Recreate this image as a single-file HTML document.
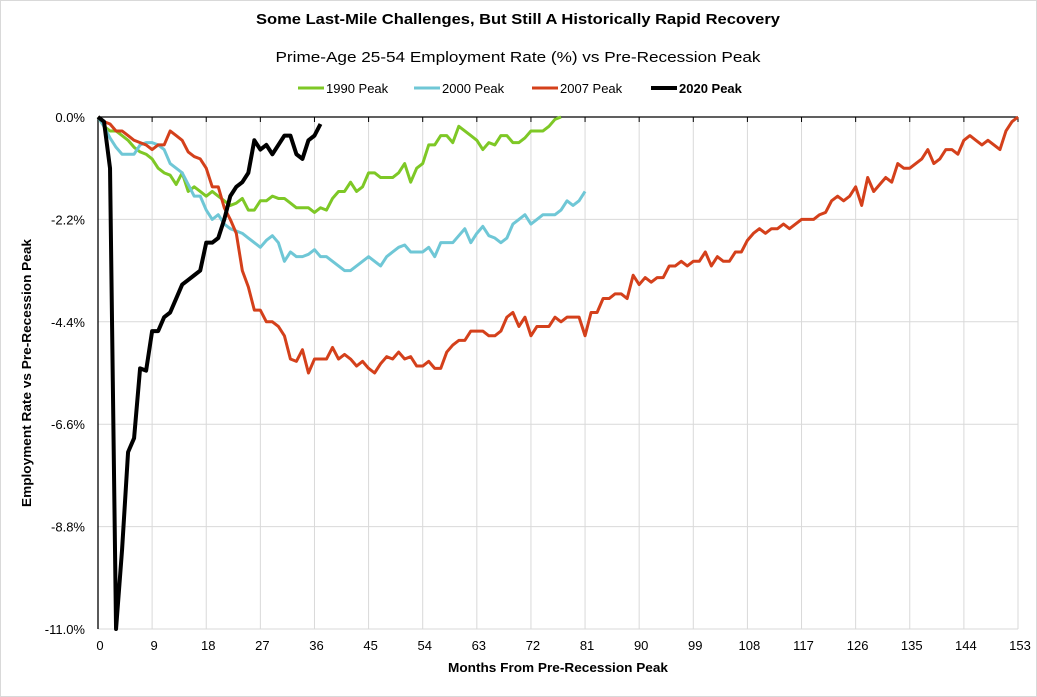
<!DOCTYPE html>
<html><head><meta charset="utf-8"><style>
body{margin:0;background:#fff;}
svg{display:block;font-family:"Liberation Sans",sans-serif;}
</style></head><body>
<svg id="chart" width="1037" height="697">
<rect x="0.5" y="0.5" width="1036" height="696" fill="#fff" stroke="#d9d9d9"/>
<text x="518" y="24" text-anchor="middle" font-size="15" font-weight="bold" textLength="524" lengthAdjust="spacingAndGlyphs">Some Last-Mile Challenges, But Still A Historically Rapid Recovery</text>
<text x="518" y="62" text-anchor="middle" font-size="15" textLength="485" lengthAdjust="spacingAndGlyphs">Prime-Age 25-54 Employment Rate (%) vs  Pre-Recession Peak</text>
<g id="legend"></g>
<g id="grid"></g>
<g id="axes"></g>
<g id="series"></g>
<text x="558" y="672" text-anchor="middle" font-size="13" font-weight="bold" textLength="220" lengthAdjust="spacingAndGlyphs">Months From Pre-Recession Peak</text>
<text transform="translate(31,373) rotate(-90)" text-anchor="middle" font-size="13" font-weight="bold" textLength="268" lengthAdjust="spacingAndGlyphs">Employment Rate vs Pre-Recession Peak</text>
</svg>
<script>
const xTicks=[0,9,18,27,36,45,54,63,72,81,90,99,108,117,126,135,144,153];
const yTicks=[0,-2.2,-4.4,-6.6,-8.8,-11.0];
const yTickLabels=["0.0%","-2.2%","-4.4%","-6.6%","-8.8%","-11.0%"];
const seriesNames=["1990 Peak","2000 Peak","2007 Peak","2020 Peak"];
const seriesColors=["#7ec826","#6fc7d6","#d4401b","#000000"];
const s1990=[0,-0.2,-0.3,-0.3,-0.4,-0.5,-0.65,-0.75,-0.8,-0.9,-1.1,-1.2,-1.25,-1.45,-1.2,-1.6,-1.5,-1.6,-1.7,-1.6,-1.7,-1.8,-1.9,-1.85,-1.75,-2.0,-2.0,-1.8,-1.8,-1.7,-1.75,-1.75,-1.85,-1.95,-1.95,-1.95,-2.05,-1.95,-2.0,-1.75,-1.6,-1.6,-1.4,-1.6,-1.5,-1.2,-1.2,-1.3,-1.3,-1.3,-1.2,-1.0,-1.4,-1.1,-1.0,-0.6,-0.6,-0.4,-0.4,-0.55,-0.2,-0.3,-0.4,-0.5,-0.7,-0.55,-0.6,-0.4,-0.4,-0.55,-0.55,-0.45,-0.3,-0.3,-0.3,-0.2,-0.05,0];
const s2000=[0,-0.2,-0.45,-0.65,-0.8,-0.8,-0.8,-0.6,-0.55,-0.55,-0.6,-0.7,-1.0,-1.1,-1.2,-1.45,-1.7,-1.7,-2.0,-2.2,-2.1,-2.3,-2.4,-2.45,-2.5,-2.6,-2.7,-2.8,-2.65,-2.55,-2.7,-3.1,-2.9,-3.0,-3.0,-2.95,-2.85,-3.0,-3.0,-3.1,-3.2,-3.3,-3.3,-3.2,-3.1,-3.0,-3.1,-3.2,-3.0,-2.9,-2.8,-2.75,-2.9,-2.9,-2.9,-2.8,-3.0,-2.7,-2.7,-2.7,-2.55,-2.4,-2.7,-2.5,-2.35,-2.55,-2.6,-2.7,-2.6,-2.3,-2.2,-2.1,-2.3,-2.2,-2.1,-2.1,-2.1,-2.0,-1.8,-1.9,-1.8,-1.6];
const s2007=[0,-0.1,-0.15,-0.3,-0.3,-0.4,-0.5,-0.55,-0.6,-0.7,-0.6,-0.6,-0.3,-0.4,-0.5,-0.75,-0.85,-0.9,-1.1,-1.5,-1.5,-1.95,-2.2,-2.5,-3.3,-3.65,-4.15,-4.15,-4.4,-4.4,-4.5,-4.7,-5.2,-5.25,-5.0,-5.5,-5.2,-5.2,-5.2,-4.95,-5.2,-5.1,-5.2,-5.35,-5.25,-5.4,-5.5,-5.3,-5.15,-5.2,-5.05,-5.2,-5.15,-5.35,-5.35,-5.25,-5.4,-5.4,-5.05,-4.9,-4.8,-4.8,-4.6,-4.6,-4.6,-4.7,-4.7,-4.6,-4.3,-4.2,-4.5,-4.3,-4.7,-4.5,-4.5,-4.5,-4.3,-4.4,-4.3,-4.3,-4.3,-4.7,-4.2,-4.2,-3.9,-3.9,-3.8,-3.8,-3.9,-3.4,-3.6,-3.45,-3.55,-3.45,-3.45,-3.2,-3.2,-3.1,-3.2,-3.1,-3.1,-2.9,-3.2,-3.0,-3.1,-3.1,-2.9,-2.9,-2.65,-2.5,-2.4,-2.5,-2.4,-2.4,-2.3,-2.4,-2.3,-2.2,-2.2,-2.2,-2.1,-2.05,-1.8,-1.7,-1.8,-1.7,-1.5,-1.9,-1.3,-1.6,-1.45,-1.3,-1.4,-1.0,-1.1,-1.1,-1.0,-0.9,-0.7,-1.0,-0.9,-0.7,-0.7,-0.8,-0.5,-0.4,-0.5,-0.6,-0.5,-0.6,-0.7,-0.3,-0.1,0];
const s2020=[0,-0.1,-1.1,-11.0,-9.3,-7.2,-6.9,-5.4,-5.45,-4.6,-4.6,-4.3,-4.2,-3.9,-3.6,-3.5,-3.4,-3.3,-2.7,-2.7,-2.6,-2.2,-1.7,-1.5,-1.4,-1.2,-0.5,-0.7,-0.6,-0.8,-0.6,-0.4,-0.4,-0.8,-0.9,-0.5,-0.4,-0.15];

const NS="http://www.w3.org/2000/svg";
const X0=98,X1=1018,Y0=117,Y1=629,XMAX=153,YMIN=-11;
function xs(m){return X0+(X1-X0)*m/XMAX;}
function ys(v){return Y0+(Y1-Y0)*(v/YMIN);}
function mk(tag,attrs,parent){const e=document.createElementNS(NS,tag);for(const k in attrs)e.setAttribute(k,attrs[k]);parent.appendChild(e);return e;}
const grid=document.getElementById('grid'),axes=document.getElementById('axes'),ser=document.getElementById('series'),leg=document.getElementById('legend');
yTicks.forEach((v,i)=>{
  if(i>0){const l=mk('line',{x1:X0,x2:X1,y1:ys(v),y2:ys(v),stroke:'#d9d9d9','stroke-width':1},grid);
  
  }
  const t=mk('text',{x:85,y:ys(v)+5,'text-anchor':'end','font-size':13},axes);
  t.textContent=yTickLabels[i];
  
  
});
xTicks.forEach(m=>{
  if(m>0){const l=mk('line',{x1:xs(m),x2:xs(m),y1:Y0,y2:Y1,stroke:'#d9d9d9','stroke-width':1},grid);
  
  
  const tk=mk('line',{x1:xs(m),x2:xs(m),y1:Y0,y2:Y0+5,stroke:'#000','stroke-width':1},axes);
  
  }
  const t=mk('text',{x:xs(m)+2,y:650,'text-anchor':'middle','font-size':13},axes);
  t.textContent=m;
  
  
});
const ax0=mk('line',{x1:X0,x2:X1,y1:Y0,y2:Y0,stroke:'#000','stroke-width':1.3},axes);


const axy=mk('line',{x1:X0,x2:X0,y1:Y0,y2:Y1,stroke:'#000','stroke-width':1.3},axes);


[s1990,s2000,s2007,s2020].forEach((d,i)=>{
  const p=mk('polyline',{points:d.map((v,m)=>xs(m)+','+ys(v)).join(' '),fill:'none',stroke:seriesColors[i],'stroke-width':i===3?4:3,'stroke-linejoin':'round'},ser);
  
  
});
const legX=[298,414,532,651];
seriesNames.forEach((n,i)=>{
  const l=mk('line',{x1:legX[i],x2:legX[i]+26,y1:88,y2:88,stroke:seriesColors[i],'stroke-width':i===3?4:3},leg);
  
  
  const t=mk('text',{x:legX[i]+28,y:93,'font-size':13,'font-weight':i===3?'bold':'normal'},leg);
  t.textContent=n;
  
  
});
</script>
</body></html>
